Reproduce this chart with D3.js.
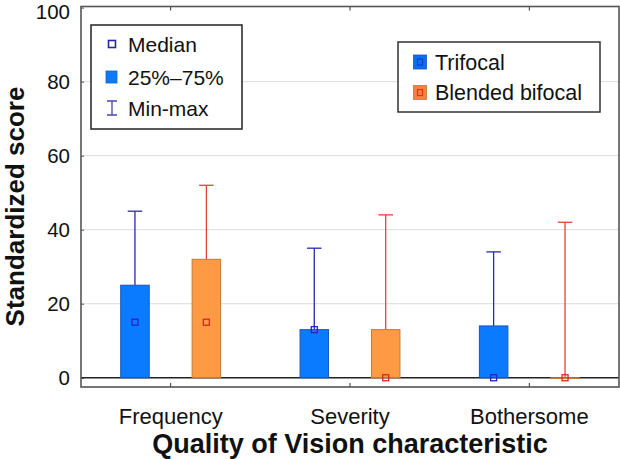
<!DOCTYPE html>
<html><head><meta charset="utf-8">
<script src="https://cdn.jsdelivr.net/npm/d3@7/dist/d3.min.js"></script>
<style>
html,body{margin:0;padding:0;background:#fff;}
text{font-family:"Liberation Sans",Arial,sans-serif;}
</style></head>
<body><svg id="chart" width="620" height="459"></svg>
<script>
const categories = ["Frequency", "Severity", "Bothersome"];
const seriesNames = ["Trifocal", "Blended bifocal"];
const trifocalMin = [0, 0, 0];
const trifocalQ1 = [0, 0, 0];
const trifocalMedian = [15, 13, 0];
const trifocalQ3 = [25, 13, 14];
const trifocalMax = [45, 35, 34];
const blendedMin = [0, 0, 0];
const blendedQ1 = [0, 0, 0];
const blendedMedian = [15, 0, 0];
const blendedQ3 = [32, 13, 0];
const blendedMax = [52, 44, 42];
const yTicks = [0, 20, 40, 60, 80, 100];
const gridTicks = [20, 40, 60, 80];
const yTitle = "Standardized score";
const xTitle = "Quality of Vision characteristic";
const legendStats = ["Median", "25%\u201375%", "Min-max"];

const styles = {
  "Trifocal": {fill: "#0a7bff", stroke: "#1a55b8", whisker: "#2a2aa6", median: "#2424c8", swFill: "#0a6ef2", swInner: "#1a3fc0"},
  "Blended bifocal": {fill: "#ff9a44", stroke: "#c47a35", whisker: "#e5423a", median: "#d42a20", swFill: "#f5823f", swInner: "#d83a1a"}
};

const data = [];
categories.forEach((c, i) => {
  data.push({cat: c, s: "Trifocal", min: trifocalMin[i], q1: trifocalQ1[i], med: trifocalMedian[i], q3: trifocalQ3[i], max: trifocalMax[i]});
  data.push({cat: c, s: "Blended bifocal", min: blendedMin[i], q1: blendedQ1[i], med: blendedMedian[i], q3: blendedQ3[i], max: blendedMax[i]});
});

const svg = d3.select("#chart");
const L = 81, R = 619, T = 6.5, B = 387;

const x = d3.scaleBand().domain(categories).range([L, R]).padding(0);
const xi = d3.scaleBand().domain(seriesNames).range([0, x.bandwidth()]).paddingInner(0.601).paddingOuter(0.556);
const y = d3.scaleLinear().domain([-2.5, 100.3]).range([B, T]);

// gridlines
svg.append("g").selectAll("line").data(gridTicks).join("line")
  .attr("x1", L).attr("x2", R).attr("y1", d => y(d)).attr("y2", d => y(d))
  .attr("stroke", "#dcdcdc").attr("stroke-width", 1);

// y axis
const yAxis = d3.axisLeft(y).tickValues(yTicks).tickSize(-3).tickPadding(11);
const gy = svg.append("g").attr("transform", `translate(${L},0)`).call(yAxis);
gy.select(".domain").remove();
gy.selectAll(".tick line").attr("stroke", "#555");
gy.selectAll(".tick text").attr("font-size", 20.5).attr("fill", "#111").attr("font-family", "Liberation Sans, Arial, sans-serif");
gy.selectAll(".tick").filter(d => d === 100).select("text").attr("dy", "0.55em");

// bottom x axis
const xAxis = d3.axisBottom(x).tickSize(-4).tickPadding(21);
const gx = svg.append("g").attr("transform", `translate(0,${B})`).call(xAxis);
gx.select(".domain").remove();
gx.selectAll(".tick line").attr("stroke", "#333");
gx.selectAll(".tick text").attr("font-size", 22).attr("fill", "#111").attr("font-family", "Liberation Sans, Arial, sans-serif");

// top ticks
const gt = svg.append("g").attr("transform", `translate(0,${T})`).call(d3.axisTop(x).tickSize(-4).tickFormat(""));
gt.select(".domain").remove();
gt.selectAll(".tick line").attr("stroke", "#333");

// zero line
svg.append("line").attr("x1", L).attr("x2", R).attr("y1", y(0)).attr("y2", y(0))
  .attr("stroke", "#222").attr("stroke-width", 1.5);

// boxes
const g = svg.append("g");
const cx = d => x(d.cat) + xi(d.s) + xi.bandwidth() / 2;
const capW = 14.5;

// whiskers
g.selectAll("line.wh").data(data).join("line").attr("class", "wh")
  .attr("x1", cx).attr("x2", cx).attr("y1", d => y(d.q3)).attr("y2", d => y(d.max))
  .attr("stroke", d => styles[d.s].whisker).attr("stroke-width", 1.3);
g.selectAll("line.cap").data(data).join("line").attr("class", "cap")
  .attr("x1", d => cx(d) - capW / 2).attr("x2", d => cx(d) + capW / 2)
  .attr("y1", d => y(d.max)).attr("y2", d => y(d.max))
  .attr("stroke", d => styles[d.s].whisker).attr("stroke-width", 1.3);

g.selectAll("rect.box").data(data).join("rect").attr("class", "box")
  .attr("x", d => x(d.cat) + xi(d.s)).attr("width", xi.bandwidth())
  .attr("y", d => y(d.q3)).attr("height", d => Math.max(0.8, y(d.q1) - y(d.q3)))
  .attr("fill", d => styles[d.s].fill).attr("stroke", d => styles[d.s].stroke).attr("stroke-width", 1);

g.selectAll("rect.med").data(data).join("rect").attr("class", "med")
  .attr("x", d => cx(d) - 3).attr("y", d => y(d.med) - 3).attr("width", 6).attr("height", 6)
  .attr("fill", "none").attr("stroke", d => styles[d.s].median).attr("stroke-width", 1.3);

// frame
svg.append("rect").attr("x", L).attr("y", T).attr("width", R - L).attr("height", B - T)
  .attr("fill", "none").attr("stroke", "#555").attr("stroke-width", 1.6);

// legend 1
const lg1 = svg.append("g");
lg1.append("rect").attr("x", 91).attr("y", 25).attr("width", 151).attr("height", 104)
  .attr("fill", "#fff").attr("stroke", "#222").attr("stroke-width", 1.5);
const rows1 = [44, 77, 108];
lg1.append("rect").attr("x", 108.5).attr("y", rows1[0] - 3.5).attr("width", 7).attr("height", 7)
  .attr("fill", "#fff").attr("stroke", "#2a2a9a").attr("stroke-width", 1.6);
lg1.append("rect").attr("x", 106).attr("y", rows1[1] - 6).attr("width", 11).attr("height", 12)
  .attr("fill", "#0a7bff").attr("stroke", "#1a60c8").attr("stroke-width", 0.8);
lg1.append("path").attr("d", `M107,${rows1[2]-7}H117M112,${rows1[2]-7}V${rows1[2]+7}M107,${rows1[2]+7}H117`)
  .attr("fill", "none").attr("stroke", "#4646b4").attr("stroke-width", 1.3);
lg1.selectAll("text").data(legendStats).join("text")
  .attr("x", 128).attr("y", (d, i) => rows1[i]).attr("dy", "0.36em")
  .attr("font-size", 21).attr("fill", "#111").text(d => d);

// legend 2
const lg2 = svg.append("g");
lg2.append("rect").attr("x", 398).attr("y", 42).attr("width", 202).attr("height", 70)
  .attr("fill", "#fff").attr("stroke", "#333").attr("stroke-width", 1.5);
const rows2 = [62, 92.5];
seriesNames.forEach((s, i) => {
  lg2.append("rect").attr("x", 413.5).attr("y", rows2[i] - 7).attr("width", 13).attr("height", 14)
    .attr("fill", styles[s].swFill).attr("stroke", styles[s].stroke).attr("stroke-width", 0.8);
  lg2.append("rect").attr("x", 417.5).attr("y", rows2[i] - 3).attr("width", 5).attr("height", 6)
    .attr("fill", "none").attr("stroke", styles[s].swInner).attr("stroke-width", 1.2);
  lg2.append("text").attr("x", 435).attr("y", rows2[i]).attr("dy", "0.36em")
    .attr("font-size", 21.5).attr("fill", "#111").text(s);
});

// titles
svg.append("text").attr("transform", `translate(14.5,${206.5}) rotate(-90)`)
  .attr("text-anchor", "middle").attr("dy", "0.36em")
  .attr("font-size", 26).attr("font-weight", "bold").attr("fill", "#111").text(yTitle);
svg.append("text").attr("x", (L + R) / 2).attr("y", 453)
  .attr("text-anchor", "middle")
  .attr("font-size", 27).attr("font-weight", "bold").attr("fill", "#111").text(xTitle);
</script></body></html>
